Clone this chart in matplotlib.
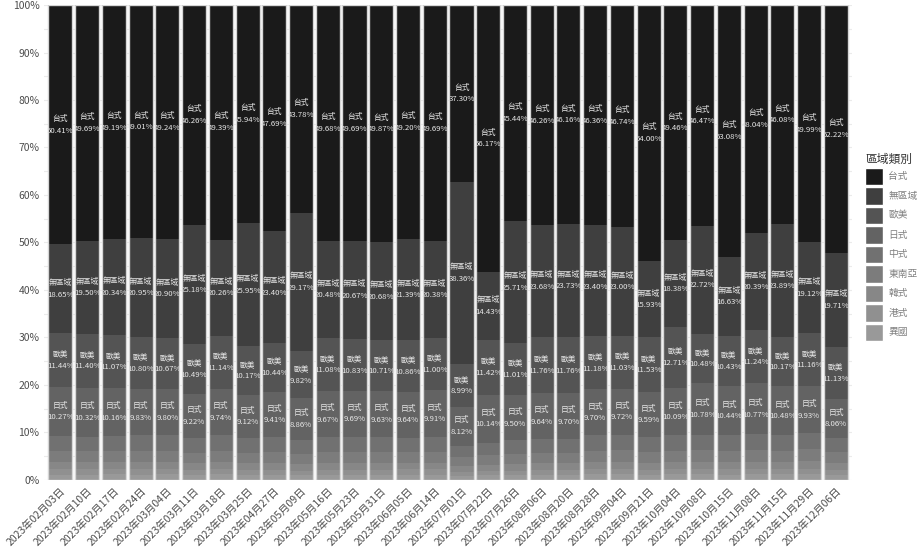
import matplotlib
matplotlib.use("Agg")
import matplotlib.pyplot as plt
from matplotlib.patches import Patch
import numpy as np

plt.rcParams['font.family'] = ['Noto Sans CJK TC', 'DejaVu Sans']

# -----------------------
# DATA
# -----------------------
dates = ["2023年02月03日", "2023年02月10日", "2023年02月17日", "2023年02月24日",
         "2023年03月04日", "2023年03月11日", "2023年03月18日", "2023年03月25日",
         "2023年04月27日", "2023年05月09日", "2023年05月16日", "2023年05月23日",
         "2023年05月31日", "2023年06月05日", "2023年06月14日", "2023年07月01日",
         "2023年07月22日", "2023年07月26日", "2023年08月06日", "2023年08月20日",
         "2023年08月28日", "2023年09月04日", "2023年09月21日", "2023年10月04日",
         "2023年10月08日", "2023年10月15日", "2023年11月08日", "2023年11月15日",
         "2023年11月29日", "2023年12月06日"]

categories = ["台式", "無區域", "歐美", "日式", "中式", "東南亞", "韓式", "港式", "異國"]

taiwanese = [50.41, 49.69, 49.19, 49.01, 49.24, 46.26, 49.39, 45.94, 47.69, 43.78,
             49.68, 49.69, 49.87, 49.20, 49.69, 37.30, 56.17, 45.44, 46.26, 46.16,
             46.36, 46.74, 54.00, 49.46, 46.47, 53.08, 48.04, 46.08, 49.99, 52.22]
no_region = [18.65, 19.50, 20.34, 20.95, 20.90, 25.18, 20.26, 25.95, 23.40, 29.17,
             20.48, 20.67, 20.68, 21.39, 20.38, 38.36, 14.43, 25.71, 23.68, 23.73,
             23.40, 23.00, 15.93, 18.38, 22.72, 16.63, 20.39, 23.89, 19.12, 19.71]
western = [11.44, 11.40, 11.07, 10.80, 10.67, 10.49, 11.14, 10.17, 10.44, 9.82,
           11.08, 10.83, 10.71, 10.86, 11.00, 8.99, 11.42, 11.01, 11.76, 11.76,
           11.18, 11.03, 11.53, 12.71, 10.48, 10.43, 11.24, 10.17, 11.16, 11.13]
japanese = [10.27, 10.32, 10.16, 9.83, 9.80, 9.22, 9.74, 9.12, 9.41, 8.86,
            9.67, 9.69, 9.63, 9.64, 9.91, 8.12, 10.14, 9.50, 9.64, 9.70,
            9.70, 9.72, 9.59, 10.09, 10.78, 10.44, 10.77, 10.48, 9.93, 8.06]
chinese = [3.2, 3.1, 3.2, 3.3, 3.3, 3.1, 3.3, 3.1, 3.2, 2.9,
           3.2, 3.2, 3.2, 3.1, 3.1, 2.5, 2.7, 2.9, 3.0, 3.0,
           3.3, 3.3, 3.1, 3.3, 3.3, 3.3, 3.3, 3.3, 3.4, 3.1]
se_asian = [2.3, 2.3, 2.3, 2.4, 2.3, 2.2, 2.4, 2.2, 2.3, 2.1,
            2.3, 2.3, 2.3, 2.2, 2.3, 1.8, 2.0, 2.1, 2.2, 2.2,
            2.3, 2.4, 2.2, 2.3, 2.4, 2.4, 2.4, 2.3, 2.5, 2.2]
korean = [1.5, 1.5, 1.5, 1.5, 1.5, 1.4, 1.5, 1.4, 1.5, 1.4,
          1.5, 1.5, 1.5, 1.4, 1.4, 1.2, 1.3, 1.4, 1.4, 1.4,
          1.5, 1.5, 1.5, 1.5, 1.5, 1.5, 1.5, 1.5, 1.6, 1.4]
hongkong = [1.1, 1.1, 1.1, 1.1, 1.1, 1.1, 1.1, 1.1, 1.1, 1.0,
            1.1, 1.1, 1.1, 1.1, 1.1, 0.9, 0.9, 1.0, 1.0, 1.0,
            1.1, 1.1, 1.1, 1.1, 1.1, 1.1, 1.1, 1.1, 1.1, 1.1]
exotic = [1.13, 1.09, 1.14, 1.11, 1.19, 1.05, 1.17, 1.02, 0.96, 0.97,
          0.99, 1.02, 1.01, 1.11, 1.12, 0.83, 0.94, 0.94, 1.06, 1.05,
          1.16, 1.21, 1.05, 1.16, 1.25, 1.12, 1.26, 1.18, 1.20, 1.08]

series = [taiwanese, no_region, western, japanese, chinese,
          se_asian, korean, hongkong, exotic]

colors = ["#1a1a1a", "#3f3f3f", "#545454", "#636363", "#717171",
          "#7c7c7c", "#878787", "#909090", "#999999"]

# -----------------------
# FIGURE
# -----------------------
fig = plt.figure(figsize=(9.23, 5.58), dpi=100)
ax = fig.add_axes([0.048, 0.14, 0.875, 0.851])

x = np.arange(len(dates))
bottom = np.zeros(len(dates))
bar_w = 0.9
# stack from the bottom: last category at the bottom
for name, vals, col in reversed(list(zip(categories, series, colors))):
    vals = np.array(vals)
    ax.bar(x, vals, bottom=bottom, width=bar_w, color=col,
           linewidth=0.0, zorder=2)
    if name in ("台式", "無區域", "歐美", "日式"):
        for xi, b, v in zip(x, bottom, vals):
            ax.text(xi, b + v / 2, f"{name}\n{v:.2f}%", ha="center", va="center",
                    fontsize=5.6, color="#e8e8e8", linespacing=1.6, zorder=3)
    bottom += vals

# light outline around each whole bar
ax.bar(x, bottom, width=bar_w, fill=False, edgecolor="#d6d6d6",
       linewidth=1.0, zorder=4)

ax.set_xlim(-0.6, len(dates) - 0.4)
ax.set_ylim(0, 100)
ax.set_yticks(np.arange(0, 101, 10))
ax.set_yticklabels([f"{v}%" for v in range(0, 101, 10)])
ax.set_yticks(np.arange(5, 100, 10), minor=True)
ax.set_xticks(x)
ax.set_xticklabels(dates, rotation=45, ha="right", rotation_mode="anchor")

ax.grid(axis="y", which="both", color="#ebebeb", linewidth=0.8, zorder=0)
ax.grid(axis="x", color="#ebebeb", linewidth=0.8, zorder=0)
ax.tick_params(axis="both", which="both", length=0, labelsize=7.5,
               labelcolor="#4d4d4d")
ax.tick_params(axis="x", pad=4)
for s in ax.spines.values():
    s.set_visible(False)

# -----------------------
# LEGEND
# -----------------------
handles = [Patch(facecolor=c, edgecolor="white") for c in colors]
leg = fig.legend(handles, categories, title="區域類別", loc="upper left",
                 bbox_to_anchor=(0.932, 0.735), frameon=False, fontsize=7,
                 title_fontsize=8.5, handlelength=1.8, handleheight=2.4,
                 handletextpad=0.6, labelspacing=0.2, borderpad=0)
leg._legend_box.align = "left"
for t in leg.get_texts():
    t.set_color("#808080")
leg.get_title().set_color("#333333")

fig.savefig("out.png", dpi=100)
